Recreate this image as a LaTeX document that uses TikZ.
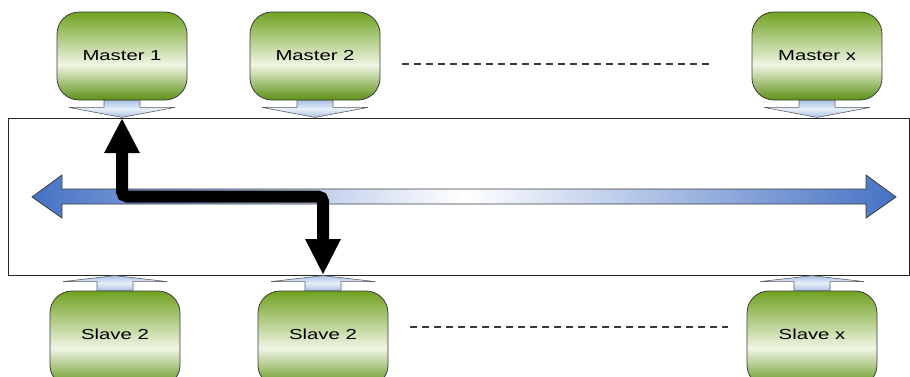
\documentclass[tikz,border=0pt]{standalone}
\usepackage{fontspec}
\setmainfont{Liberation Sans}
\usepackage{graphicx}
\usetikzlibrary{arrows.meta,calc}

\definecolor{greenTop}{RGB}{112,162,34}
\definecolor{greenMid}{RGB}{240,245,228}
\definecolor{greenBot}{RGB}{92,144,20}
\definecolor{busBlue}{RGB}{70,114,196}
\definecolor{tabLight}{RGB}{232,239,249}
\definecolor{tabDark}{RGB}{170,194,232}
\definecolor{edgeGray}{RGB}{60,60,60}

% green body of every master / slave unit
\pgfdeclareverticalshading{unitgreen}{100bp}{%
  color(0bp)=(greenBot); color(25bp)=(greenBot); color(45bp)=(greenMid);
  color(75bp)=(greenTop); color(100bp)=(greenTop)}

\newcommand{\unitlabel}[1]{\scalebox{1.4}[1]{#1}}

\tikzset{
  unit/.style={draw=edgeGray, line width=0.8pt, rounded corners=22pt,
    minimum width=130pt, minimum height=88pt, inner sep=0pt,
    shading=unitgreen, font=\fontsize{14.5}{16}\selectfont},
  slaveunit/.style={unit, minimum height=96pt, text depth=10pt},
  tab/.style={draw=gray!75!black, line width=0.6pt,
    top color=tabDark, bottom color=tabDark, middle color=tabLight},
  busbox/.style={draw=black!85, line width=0.8pt, inner sep=0pt, outer sep=0pt,
    minimum width=901pt, minimum height=157pt},
  busarrow/.style={draw=edgeGray, line width=0.8pt,
    left color=busBlue, right color=busBlue, middle color=white},
  route/.style={line width=12pt, rounded corners=5pt, black,
    {Triangle[length=35pt,width=33pt]}-{Triangle[length=36pt,width=33pt]}},
  gap/.style={draw=gray!45!black, line width=1.5pt, dash pattern=on 7pt off 5pt},
  downtab/.pic={\path[tab] (-18,0) -- (18,0) -- (18,7) -- (53,7) -- (0,17)
    -- (-53,7) -- (-18,7) -- cycle;},
  uptab/.pic={\path[tab] (-18,0) -- (18,0) -- (18,-9) -- (52,-9) -- (0,-15)
    -- (-52,-9) -- (-18,-9) -- cycle;}
}

\begin{document}
\begin{tikzpicture}[x=1pt,y=-1pt]
  \useasboundingbox (0,0) rectangle (910,376);

  % shared bus
  \node[busbox] (bus) at (458.5,196.5) {};
  \path[busarrow] (32,197) -- (62,175) -- (62,189) -- (866,189) -- (866,175)
    -- (896,197) -- (866,218) -- (866,204) -- (62,204) -- (62,218) -- cycle;

  % masters
  \node[unit] (m1) at (122,56) {\unitlabel{Master 1}};
  \node[unit] (m2) at (315,56) {\unitlabel{Master 2}};
  \node[unit] (mx) at (817,56) {\unitlabel{Master x}};
  \foreach \m in {m1,m2,mx} \pic at (\m.south) {downtab};

  % slaves
  \node[slaveunit] (s1) at (115,339) {\unitlabel{Slave 2}};
  \node[slaveunit] (s2) at (323,339) {\unitlabel{Slave 2}};
  \node[slaveunit] (sx) at (812,339) {\unitlabel{Slave x}};
  \foreach \s in {s1,s2,sx} \pic at (\s.north) {uptab};

  % further units are elided
  \draw[gap] ($(m2.east)+(22,8)$) -- ($(mx.west)+(-39,8)$);
  \draw[gap] ($(s2.east)+(22,-12)$) -- ($(sx.west)+(-19,-12)$);

  % transfer from master 1 to slave 2 across the bus
  \draw[route] (m1.south |- bus.north) |- (s2.north |- bus.center)
    -- (s2.north |- bus.south);
\end{tikzpicture}
\end{document}
